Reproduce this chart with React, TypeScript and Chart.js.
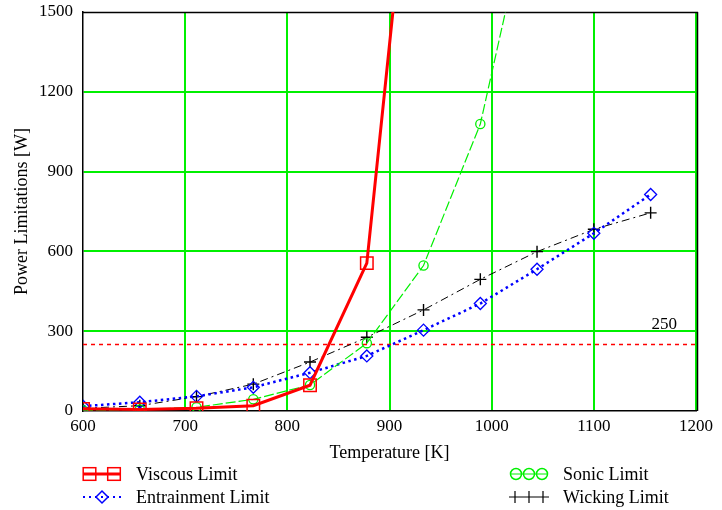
import React, { useEffect, useRef } from "react";
import { Chart, registerables } from "chart.js";

Chart.register(...registerables);

// ---- data ----
const temperatures = [600, 655.6, 711.1, 766.7, 822.2, 877.8, 933.3, 988.9, 1044.4, 1100, 1155.6];
const viscousLimit = [8, 6, 10, 20, 97, 556, 2610];
const sonicLimit = [3, 6, 14, 44, 98, 255, 547, 1079, 2030];
const entrainmentLimit = [18, 33, 55, 89, 144, 207, 304, 404, 533, 668, 814];
const wickingLimit = [10, 20, 54, 101, 184, 277, 380, 495, 599, 683, 745];
const thresholdValue = 250;
const thresholdLabel = "250";
const seriesNames = ["Viscous Limit", "Entrainment Limit", "Sonic Limit", "Wicking Limit"];
const xTitle = "Temperature [K]";
const yTitle = "Power Limitations [W]";
const xMin = 600, xMax = 1200, xStep = 100;
const yMin = 0, yMax = 1500, yStep = 300;

const SERIF = "'Liberation Serif', 'Times New Roman', serif";
const GREEN = "#00f000";
const RED = "#ff0000";
const BLUE = "#0000ff";

const toPoints = (vals: number[]) => vals.map((v, i) => ({ x: temperatures[i], y: v }));

const framePlugin = {
  id: "frame",
  beforeDatasetsDraw(chart: any) {
    const { ctx, chartArea } = chart;
    ctx.save();
    ctx.strokeStyle = "#000";
    ctx.lineWidth = 1.5;
    ctx.beginPath();
    ctx.moveTo(chartArea.left, chartArea.top + 0.5);
    ctx.lineTo(chartArea.right + 2, chartArea.top + 0.5);
    ctx.moveTo(chartArea.right + 1.5, chartArea.top);
    ctx.lineTo(chartArea.right + 1.5, chartArea.bottom);
    ctx.stroke();
    ctx.restore();
  },
};

const annotationPlugin = {
  id: "annot",
  afterDraw(chart: any) {
    const { ctx } = chart;
    const xs = chart.scales.x;
    const ys = chart.scales.y;
    ctx.save();
    ctx.fillStyle = "#000";
    ctx.font = `17px ${SERIF}`;
    ctx.textAlign = "center";
    ctx.textBaseline = "middle";
    ctx.fillText(thresholdLabel, xs.getPixelForValue(1169), ys.getPixelForValue(thresholdValue) - 20);

    // legend
    ctx.font = `18px ${SERIF}`;
    ctx.textAlign = "left";
    const r1 = 474, r2 = 497;
    // viscous
    ctx.strokeStyle = RED;
    ctx.lineWidth = 3;
    ctx.beginPath();
    ctx.moveTo(83, r1);
    ctx.lineTo(121, r1);
    ctx.stroke();
    ctx.lineWidth = 1.5;
    [89.5, 114].forEach((cx) => ctx.strokeRect(cx - 6.3, r1 - 6.3, 12.6, 12.6));
    ctx.fillText(seriesNames[0], 136, r1 + 1);
    // entrainment
    ctx.strokeStyle = BLUE;
    ctx.lineWidth = 2;
    ctx.setLineDash([2, 4]);
    ctx.beginPath();
    ctx.moveTo(83, r2);
    ctx.lineTo(121, r2);
    ctx.stroke();
    ctx.setLineDash([]);
    ctx.lineWidth = 1.5;
    ctx.beginPath();
    ctx.moveTo(96, r2);
    ctx.lineTo(102, r2 - 6);
    ctx.lineTo(108, r2);
    ctx.lineTo(102, r2 + 6);
    ctx.closePath();
    ctx.fillStyle = "#fff";
    ctx.fill();
    ctx.stroke();
    ctx.fillStyle = BLUE;
    ctx.fillRect(101, r2 - 1, 2, 2);
    ctx.fillStyle = "#000";
    ctx.fillText(seriesNames[1], 136, r2 + 1);
    // sonic
    ctx.strokeStyle = GREEN;
    ctx.lineWidth = 1;
    ctx.beginPath();
    ctx.moveTo(510, r1);
    ctx.lineTo(548, r1);
    ctx.stroke();
    ctx.lineWidth = 1.5;
    [516, 529, 542].forEach((cx) => {
      ctx.beginPath();
      ctx.arc(cx, r1, 5.5, 0, Math.PI * 2);
      ctx.stroke();
    });
    ctx.fillText(seriesNames[2], 563, r1 + 1);
    // wicking
    ctx.strokeStyle = "#000";
    ctx.lineWidth = 1.2;
    ctx.beginPath();
    ctx.moveTo(509, r2);
    ctx.lineTo(549, r2);
    [515, 529, 543].forEach((cx) => {
      ctx.moveTo(cx, r2 - 6);
      ctx.lineTo(cx, r2 + 6);
    });
    ctx.stroke();
    ctx.fillText(seriesNames[3], 563, r2 + 1);
    ctx.restore();
  },
};

export default function App() {
  const ref = useRef<HTMLCanvasElement | null>(null);
  useEffect(() => {
    document.body.style.margin = "0";
    const canvas = ref.current!;
    const chart = new Chart(canvas, {
      type: "scatter",
      data: {
        datasets: [
          {
            label: seriesNames[0],
            data: toPoints(viscousLimit),
            showLine: true,
            borderColor: RED,
            borderWidth: 3,
            pointStyle: "rect",
            pointRadius: 8.8,
            pointBorderWidth: 1.5,
            pointBorderColor: RED,
            pointBackgroundColor: "rgba(0,0,0,0)",
            tension: 0,
            order: 1,
          },
          {
            label: seriesNames[1],
            data: toPoints(entrainmentLimit),
            showLine: true,
            borderColor: BLUE,
            borderWidth: 2.5,
            borderDash: [2.5, 3.5],
            pointStyle: "rectRot",
            pointRadius: 6,
            pointBorderWidth: 1.3,
            pointBorderColor: BLUE,
            pointBackgroundColor: "rgba(0,0,0,0)",
            tension: 0,
            order: 3,
          },
          {
            label: seriesNames[2],
            data: toPoints(sonicLimit),
            showLine: true,
            borderColor: GREEN,
            borderWidth: 1.2,
            borderDash: [10, 3],
            pointStyle: "circle",
            pointRadius: 4.6,
            pointBorderWidth: 1.3,
            pointBorderColor: GREEN,
            pointBackgroundColor: "rgba(0,0,0,0)",
            tension: 0,
            order: 2,
          },
          {
            label: seriesNames[3],
            data: toPoints(wickingLimit),
            showLine: true,
            borderColor: "#000",
            borderWidth: 1,
            borderDash: [8, 4, 2, 4],
            pointStyle: "cross",
            pointRadius: 6,
            pointBorderWidth: 1.4,
            pointBorderColor: "#000",
            tension: 0,
            order: 4,
          },
          {
            label: "threshold",
            data: [
              { x: xMin, y: thresholdValue },
              { x: xMax, y: thresholdValue },
            ],
            showLine: true,
            borderColor: RED,
            borderWidth: 1.5,
            borderDash: [4, 4],
            pointRadius: 0,
            order: 5,
          },
        ],
      },
      options: {
        responsive: false,
        animation: false,
        layout: { padding: { left: 0, top: 12, right: 26, bottom: 0 } },
        plugins: {
          legend: { display: false },
          tooltip: { enabled: false },
        },
        scales: {
          x: {
            type: "linear",
            min: xMin,
            max: xMax,
            ticks: {
              stepSize: xStep,
              color: "#000",
              font: { family: SERIF, size: 17 },
              padding: 5,
              maxRotation: 0,
              callback: (v: any) => String(v),
            },
            grid: {
              color: (c: any) => (c.tick && c.tick.value === xMin ? "rgba(0,0,0,0)" : GREEN),
              lineWidth: 2,
              drawTicks: false,
            },
            border: { display: true, color: "#000", width: 1.5 },
            title: {
              display: true,
              text: xTitle,
              color: "#000",
              font: { family: SERIF, size: 18 },
              padding: { top: 0, bottom: 46 },
            },
            afterFit: (s: any) => {
              s.height = 99;
              s.paddingLeft = 0;
              s.paddingRight = 0;
            },
          },
          y: {
            type: "linear",
            min: yMin,
            max: yMax,
            ticks: {
              stepSize: yStep,
              color: "#000",
              font: { family: SERIF, size: 17 },
              padding: 10,
              callback: (v: any) => String(v),
            },
            grid: {
              color: (c: any) =>
                c.tick && (c.tick.value === yMin || c.tick.value === yMax) ? "rgba(0,0,0,0)" : GREEN,
              lineWidth: 2,
              drawTicks: false,
            },
            border: { display: true, color: "#000", width: 1.5 },
            title: {
              display: true,
              text: yTitle,
              color: "#000",
              font: { family: SERIF, size: 18 },
              padding: { top: 11, bottom: 0 },
            },
            afterFit: (s: any) => {
              s.width = 83;
              s.paddingTop = 0;
              s.paddingBottom = 0;
            },
          },
        },
      },
      plugins: [framePlugin, annotationPlugin],
    } as any);
    return () => chart.destroy();
  }, []);
  return (
    <div style={{ position: "absolute", left: 0, top: 0, width: 722, height: 510, background: "#fff" }}>
      <canvas ref={ref} width={722} height={510} style={{ width: 722, height: 510 }} />
    </div>
  );
}
